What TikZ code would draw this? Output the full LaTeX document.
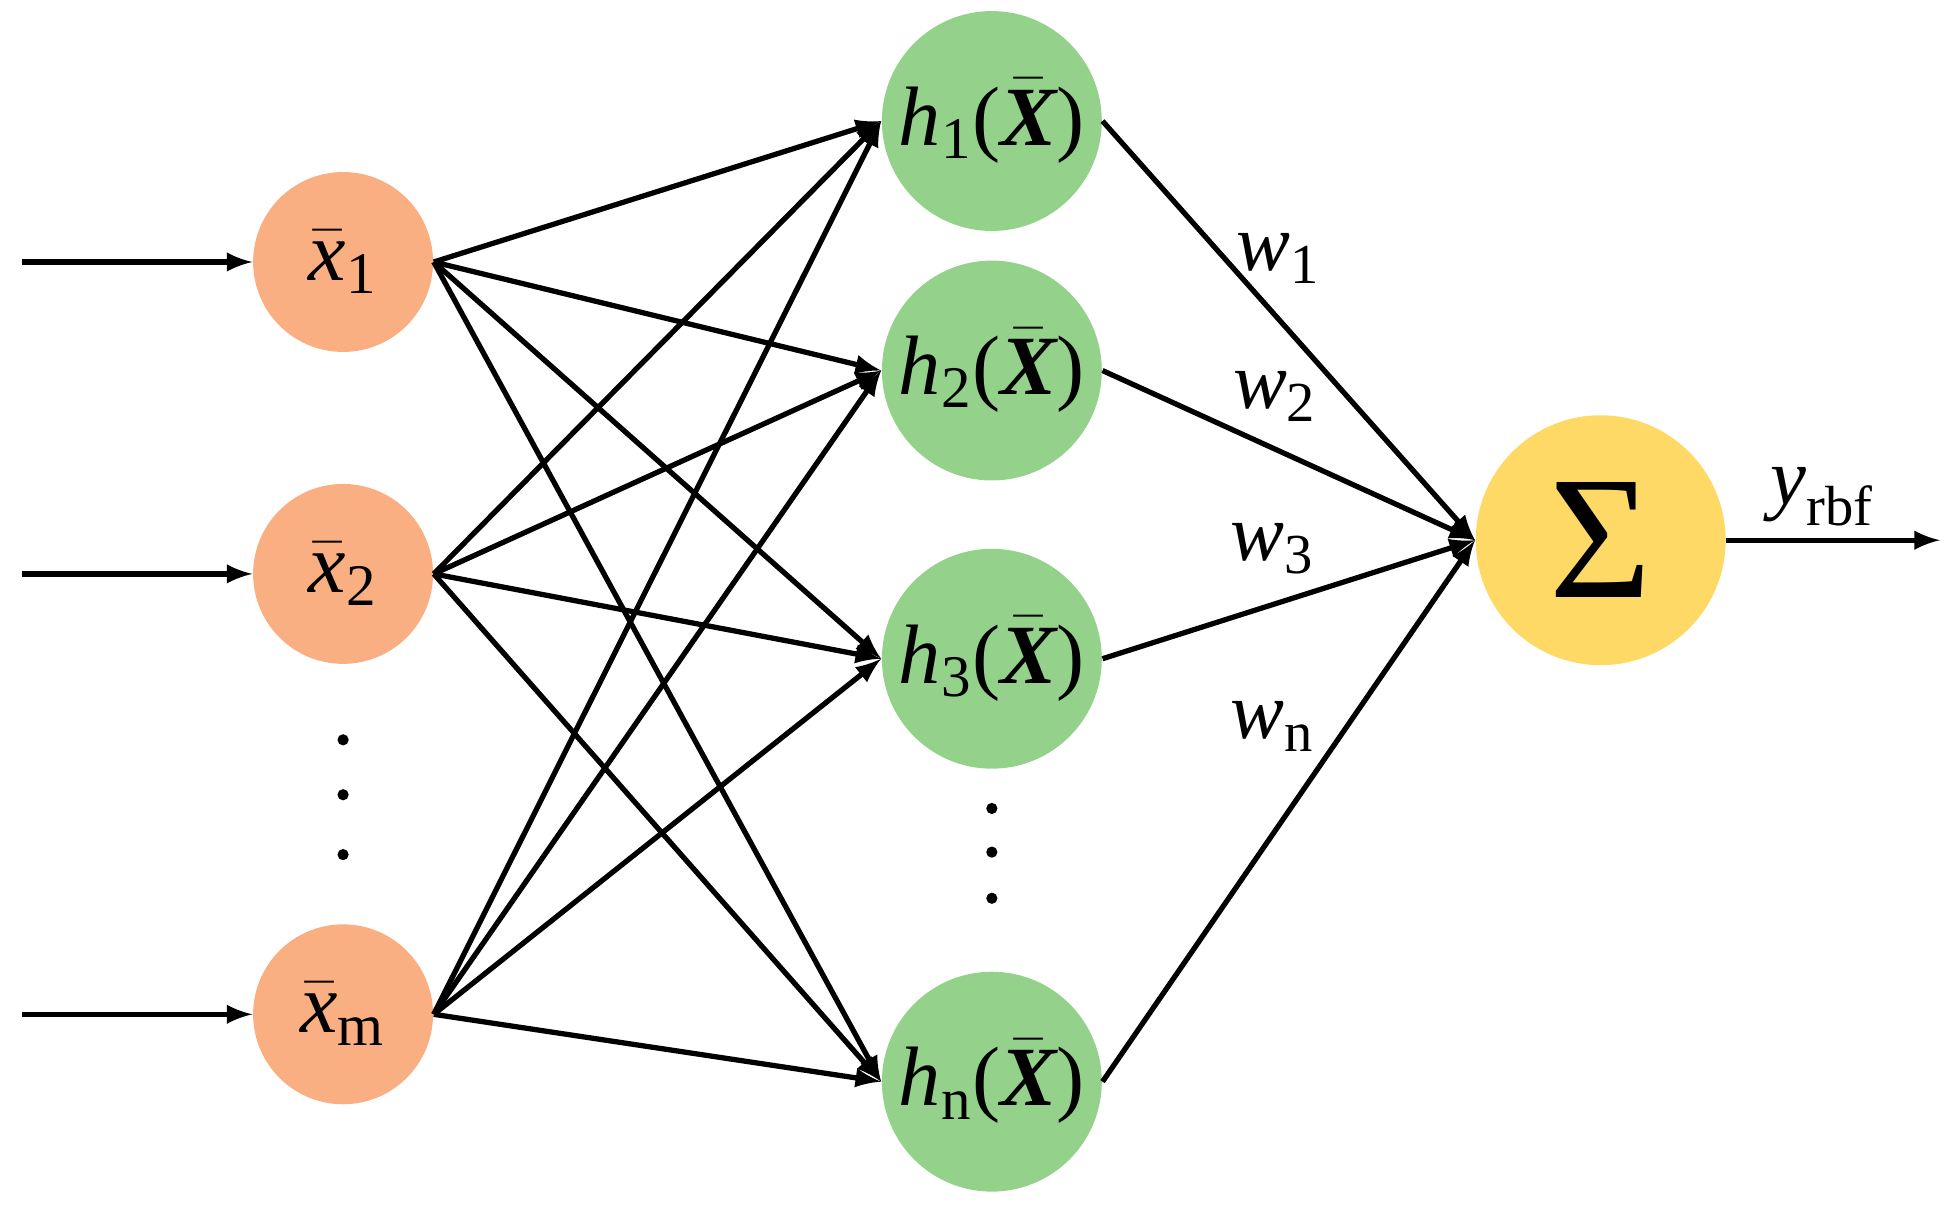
\documentclass[tikz,border=0pt]{standalone}
\usepackage{amsmath}
\usepackage{fontspec}
\setmainfont{Liberation Serif}
\definecolor{inorange}{RGB}{250,175,130}
\definecolor{hidgreen}{RGB}{148,210,140}
\definecolor{sumyellow}{RGB}{255,217,102}
\newcommand{\vi}[1]{\text{\itshape #1}}
\newcommand{\vr}[1]{\text{\upshape #1}}
\newcommand{\bX}{\bar{\text{\bfseries\itshape X}}}
\begin{document}
\begin{tikzpicture}[x=0.012476cm,y=-0.012476cm,>=latex,
  font=\fontsize{24}{28}\selectfont,
  conn/.style={line width=1.5pt},
  inp/.style={circle,fill=inorange,minimum size=1.8cm,inner sep=0pt},
  hid/.style={circle,fill=hidgreen,minimum size=2.2cm,inner sep=0pt},
  wlab/.style={font=\fontsize{23}{26}\selectfont}]
\useasboundingbox (0,0) rectangle (1563,975);
% input layer
\node[inp] (x1) at (275,210) {$\bar{\vi{x}}_{\vr{1}}$};
\node[inp] (x2) at (275,460) {$\bar{\vi{x}}_{\vr{2}}$};
\node[inp] (xm) at (275,813) {$\bar{\vi{x}}_{\vr{m}}$};
\foreach \y in {593,637,685} \fill (275,\y) circle (4.5);
% hidden layer
\node[hid] (h1) at (795,97) {$\vi{h}_{\vr{1}}\vr{(}\bX\vr{)}$};
\node[hid] (h2) at (795,297) {$\vi{h}_{\vr{2}}\vr{(}\bX\vr{)}$};
\node[hid] (h3) at (795,528) {$\vi{h}_{\vr{3}}\vr{(}\bX\vr{)}$};
\node[hid] (hn) at (795,867) {$\vi{h}_{\vr{n}}\vr{(}\bX\vr{)}$};
\foreach \y in {648,683,720} \fill (795,\y) circle (4.5);
% output
\node[circle,fill=sumyellow,minimum size=2.5cm,inner sep=0pt,font=\fontsize{50}{54}\selectfont] (sum) at (1283,433) {Σ};
\coordinate (in1) at (18,210);
\coordinate (in2) at (18,460);
\coordinate (inm) at (18,813);
\coordinate (out) at (1555,433);
\foreach \a/\b in {in1/x1,in2/x2,inm/xm}
  \draw[conn,->] (\a) -- (\b);
\foreach \s in {x1,x2,xm}
  \foreach \t in {h1,h2,h3,hn}
    \draw[conn,->] (\s.east) -- (\t.west);
\foreach \t in {h1,h2,h3,hn}
  \draw[conn,->] (\t.east) -- (sum.west);
\draw[conn,->] (sum.east) -- (out) node[pos=0.45,above,wlab] {$\vi{y}_{\vr{rbf}}$};
% weights
\node[wlab] (w1) at (1025,207) {$\vi{w}_{\vr{1}}$};
\node[wlab] (w2) at (1022,318) {$\vi{w}_{\vr{2}}$};
\node[wlab] (w3) at (1020,440) {$\vi{w}_{\vr{3}}$};
\node[wlab] (wn) at (1020,582) {$\vi{w}_{\vr{n}}$};
\end{tikzpicture}
\end{document}
